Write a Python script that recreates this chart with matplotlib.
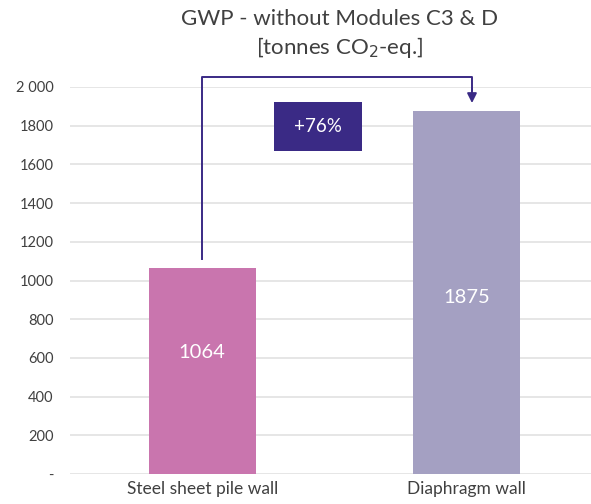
import matplotlib.pyplot as plt
from matplotlib.patches import Rectangle

plt.rcParams['font.family'] = ['Lato', 'DejaVu Sans']

categories = ['Steel sheet pile wall', 'Diaphragm wall']
values = [1064, 1875]
label_heights = [630, 910]
bar_colors = ['#C975AE', '#A4A0C2']
yticks = [0, 200, 400, 600, 800, 1000, 1200, 1400, 1600, 1800, 2000]
ytick_labels = ['-', '200', '400', '600', '800', '1000', '1200', '1400', '1600', '1800', '2 000']
change_label = '+76%'

fig = plt.figure(figsize=(5.91, 5.04), dpi=100)
ax = fig.add_axes([70/591, 30/504, 521/591, 387/504])

x = range(len(categories))
ax.bar(x, values, width=0.405, color=bar_colors, zorder=2)
for i, v in enumerate(values):
    ax.text(i, label_heights[i], str(v), ha='center', va='center', color='white', fontsize=14.5)

ax.set_xlim(-0.5, 1.47)
ax.set_ylim(0, 2000)
ax.set_yticks(yticks)
ax.set_yticklabels(ytick_labels)
ax.set_xticks(list(x))
ax.set_xticklabels(categories)
ax.tick_params(axis='both', length=0, colors='#404040')
ax.tick_params(axis='y', labelsize=10.5, pad=12)
ax.tick_params(axis='x', labelsize=12.5, pad=5)
ax.grid(axis='y', color='#E4E4E4', linewidth=1.3, zorder=0)
for s in ax.spines.values():
    s.set_visible(False)

# elbow arrow from first bar to second bar
line_color = '#3A2A85'
ax.plot([0, 0, 1.02, 1.02], [1110, 2052, 2052, 1985], color=line_color,
        linewidth=1.4, clip_on=False, zorder=3)
ax.annotate('', xy=(1.02, 1917), xytext=(1.02, 1990),
            arrowprops=dict(arrowstyle='-|>', color=line_color, lw=1.4,
                            mutation_scale=14, shrinkA=0, shrinkB=0),
            annotation_clip=False)

# percentage change box
ax.add_patch(Rectangle((0.272, 1670), 0.332, 253, facecolor=line_color,
                       edgecolor='none', zorder=4))
ax.text(0.438, 1796, change_label, ha='center', va='center', color='white',
        fontsize=13.5, zorder=5)

fig.text(0.575, 0.962, 'GWP - without Modules C3 & D', ha='center', va='center',
         fontsize=16, color='#404040')
fig.text(0.575, 0.905, '[tonnes CO$_2$-eq.]', ha='center', va='center',
         fontsize=16, color='#404040')

fig.savefig('out.png', dpi=100)
